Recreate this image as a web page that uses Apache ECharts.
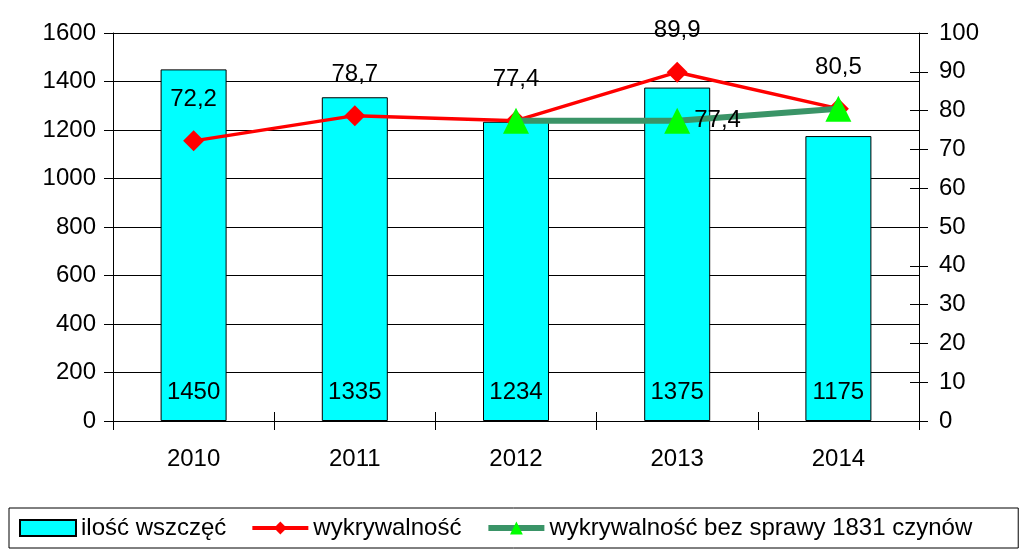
<!DOCTYPE html>
<html>
<head>
<meta charset="utf-8">
<script src="https://cdn.jsdelivr.net/npm/echarts@6/dist/echarts.min.js"></script>
<style>
  html, body { margin: 0; padding: 0; background: #fff; }
  #chart { width: 1023px; height: 551px; }
</style>
</head>
<body>
<div id="chart"></div>
<script>
// Values.
const years = ['2010', '2011', '2012', '2013', '2014'];
const cases = [1450, 1335, 1234, 1375, 1175];
const detection = [72.2, 78.7, 77.4, 89.9, 80.5];
const detectionWithout1831 = [null, null, 77.4, 77.4, 80.5];

const FONT = 'Liberation Sans, Arial, sans-serif';
const comma = (v) => String(v).replace('.', ',');

// The y ticks in the reference cross the axis line. Two narrow grids sitting
// across the axes draw them as short split lines on the same scales.
const tickStrip = (gridIndex, max, interval) => ({
  gridIndex,
  type: 'value',
  min: 0,
  max,
  interval,
  axisLine: { show: false },
  axisTick: { show: false },
  axisLabel: { show: false },
  splitLine: { show: true, lineStyle: { color: '#000', width: 1 } },
});
const hiddenX = (gridIndex) => ({ gridIndex, type: 'value', show: false });

const chart = echarts.init(document.getElementById('chart'));

chart.setOption({
  animation: false,
  grid: [
    { left: 113, right: 104, top: 33, bottom: 130 },
    { left: 104, width: 18, top: 33, bottom: 130 },
    { left: 910, width: 18, top: 33, bottom: 130 },
  ],
  legend: {
    left: 9,
    top: 508,
    padding: [8, 46, 8, 10],
    itemGap: 24,
    itemWidth: 56,
    itemHeight: 16,
    borderColor: '#000',
    borderWidth: 1,
    borderRadius: 0,
    textStyle: { fontFamily: FONT, fontSize: 24, color: '#000' },
    data: [
      { name: 'ilość wszczęć', icon: 'rect' },
      { name: 'wykrywalność', lineStyle: { width: 4 } },
      { name: 'wykrywalność bez sprawy 1831 czynów', lineStyle: { width: 6 } },
    ],
  },
  xAxis: [
    {
      type: 'category',
      position: 'bottom',
      data: years,
      boundaryGap: true,
      axisLine: { show: true, lineStyle: { color: '#000' } },
      axisTick: { show: true, length: 9, lineStyle: { color: '#000', width: 1 } },
      axisLabel: { color: '#000', fontFamily: FONT, fontSize: 24, margin: 26 },
    },
    {
      // inner half of the category ticks
      type: 'category',
      position: 'bottom',
      data: years,
      boundaryGap: true,
      axisLine: { show: false },
      axisLabel: { show: false },
      splitLine: { show: false },
      axisTick: { show: true, inside: true, length: 9, lineStyle: { color: '#000', width: 1 } },
    },
    hiddenX(1),
    hiddenX(2),
  ],
  yAxis: [
    {
      type: 'value',
      min: 0,
      max: 1600,
      interval: 200,
      position: 'left',
      axisLine: { show: true, lineStyle: { color: '#000' } },
      axisTick: { show: false },
      axisLabel: {
        color: '#000', fontFamily: FONT, fontSize: 24, margin: 17,
        formatter: (v) => String(v),
      },
      splitLine: { show: true, lineStyle: { color: '#000', width: 1 } },
    },
    {
      type: 'value',
      min: 0,
      max: 100,
      interval: 10,
      position: 'right',
      axisLine: { show: true, lineStyle: { color: '#000' } },
      axisTick: { show: false },
      axisLabel: { color: '#000', fontFamily: FONT, fontSize: 24, margin: 20 },
      splitLine: { show: false },
    },
    tickStrip(1, 1600, 200),
    tickStrip(2, 100, 10),
  ],
  series: [
    {
      name: 'ilość wszczęć',
      type: 'bar',
      yAxisIndex: 0,
      data: cases,
      barWidth: 66,
      itemStyle: { color: '#00ffff', borderColor: '#000', borderWidth: 1 },
      label: {
        show: true,
        position: 'insideBottom',
        distance: 17,
        color: '#000',
        fontFamily: FONT,
        fontSize: 24,
      },
      z: 1,
    },
    {
      name: 'wykrywalność',
      type: 'line',
      yAxisIndex: 1,
      data: detection,
      symbol: 'diamond',
      symbolSize: 21,
      lineStyle: { color: '#ff0000', width: 3.5 },
      itemStyle: { color: '#ff0000' },
      label: {
        show: true,
        position: 'top',
        distance: 19,
        color: '#000',
        fontFamily: FONT,
        fontSize: 24,
        formatter: (p) => comma(p.value),
      },
      z: 3,
    },
    {
      name: 'wykrywalność bez sprawy 1831 czynów',
      type: 'line',
      yAxisIndex: 1,
      data: detectionWithout1831,
      symbol: 'triangle',
      symbolSize: 26,
      lineStyle: { color: '#3a9467', width: 6 },
      itemStyle: { color: '#00ff00' },
      label: {
        show: true,
        position: 'right',
        distance: 4,
        color: '#000',
        fontFamily: FONT,
        fontSize: 24,
        formatter: (p) => (p.dataIndex === 3 ? comma(p.value) : ''),
      },
      z: 4,
    },
  ],
});
</script>
</body>
</html>
